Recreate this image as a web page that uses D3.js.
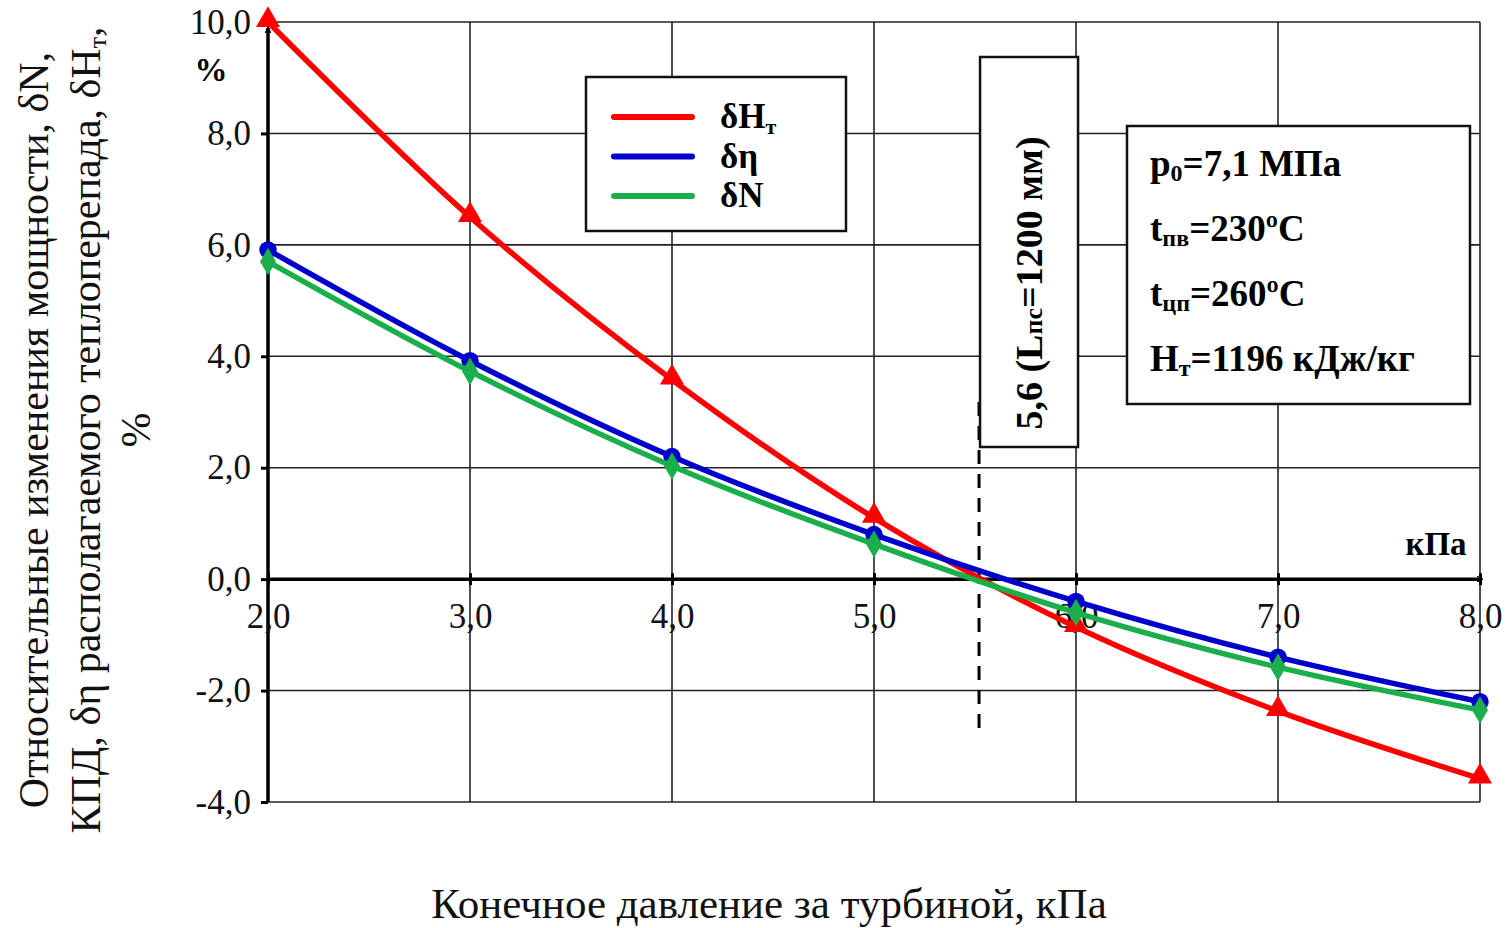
<!DOCTYPE html>
<html>
<head>
<meta charset="utf-8">
<script src="https://cdn.jsdelivr.net/npm/d3@7"></script>
<style>
  body { margin: 0; background: #fff; }
  svg { display: block; font-family: "Liberation Serif", "Times New Roman", serif; }
</style>
</head>
<body>
<div id="chart"></div>
<script>
const pressures = [2, 3, 4, 5, 6, 7, 8];
const dHt = [10.0, 6.5, 3.58, 1.1, -0.86, -2.37, -3.58];
const dEta = [5.91, 3.92, 2.2, 0.8, -0.4, -1.4, -2.2];
const dN = [5.7, 3.73, 2.03, 0.63, -0.6, -1.58, -2.35];
const xTicks = [2, 3, 4, 5, 6, 7, 8];
const yTicks = [-4, -2, 0, 2, 4, 6, 8, 10];
const markerLine = 5.52;

const w = 1505;
const h = 928;

const svg = d3.select("#chart")
  .append("svg")
  .attr("width", w)
  .attr("height", h);

const xScale = d3.scaleLinear().domain([2, 8]).range([268, 1480]);
const yScale = d3.scaleLinear().domain([-4, 10]).range([802, 22]);

const fmt = d => d3.format(".1f")(d).replace(".", ",").replace("−", "-");

// grid
svg.append("g")
  .selectAll("line")
  .data(yTicks)
  .enter()
  .append("line")
  .attr("x1", xScale(2))
  .attr("x2", xScale(8))
  .attr("y1", d => yScale(d))
  .attr("y2", d => yScale(d))
  .attr("stroke", "#222")
  .attr("stroke-width", 1.6);

svg.append("g")
  .selectAll("line")
  .data(xTicks)
  .enter()
  .append("line")
  .attr("x1", d => xScale(d))
  .attr("x2", d => xScale(d))
  .attr("y1", yScale(10))
  .attr("y2", yScale(-4))
  .attr("stroke", "#222")
  .attr("stroke-width", 1.6);

// arrows
const defs = svg.append("defs");
defs.append("marker")
  .attr("id", "arrow")
  .attr("viewBox", "0 0 10 10")
  .attr("refX", 9)
  .attr("refY", 5)
  .attr("markerWidth", 6)
  .attr("markerHeight", 6)
  .attr("markerUnits", "userSpaceOnUse")
  .attr("orient", "auto")
  .append("path")
  .attr("d", "M0,0 L10,5 L0,10")
  .attr("fill", "none")
  .attr("stroke", "#000")
  .attr("stroke-width", 2.2);

// y axis
const yAxis = d3.axisLeft(yScale)
  .tickValues(yTicks)
  .tickFormat(fmt)
  .tickSize(7)
  .tickSizeOuter(0);
const gy = svg.append("g")
  .attr("transform", "translate(" + xScale(2) + ",0)")
  .call(yAxis);
gy.select(".domain").remove();
gy.selectAll(".tick line").attr("stroke", "#000").attr("stroke-width", 3);
gy.selectAll(".tick text")
  .attr("x", -17)
  .attr("font-size", 35)
  .attr("font-family", "Liberation Serif")
  .attr("fill", "#111");

svg.append("line")
  .attr("x1", xScale(2))
  .attr("x2", xScale(2))
  .attr("y1", yScale(-4))
  .attr("y2", yScale(10) + 6)
  .attr("stroke", "#000")
  .attr("stroke-width", 3.5)
  .attr("marker-end", "url(#arrow)");

// x axis at zero
const xAxis = d3.axisBottom(xScale)
  .tickValues(xTicks)
  .tickFormat(fmt)
  .tickSize(6)
  .tickSizeOuter(0);
const gx = svg.append("g")
  .attr("transform", "translate(0," + yScale(0) + ")")
  .call(xAxis);
gx.select(".domain").remove();
gx.selectAll(".tick line").attr("y1", -6).attr("stroke", "#000").attr("stroke-width", 3);
gx.selectAll(".tick text")
  .attr("y", 24)
  .attr("font-size", 35)
  .attr("font-family", "Liberation Serif")
  .attr("fill", "#111");

svg.append("line")
  .attr("x1", xScale(2))
  .attr("x2", xScale(8) + 2)
  .attr("y1", yScale(0))
  .attr("y2", yScale(0))
  .attr("stroke", "#000")
  .attr("stroke-width", 3.5)
  .attr("marker-end", "url(#arrow)");

// unit labels
svg.append("text")
  .attr("x", 211)
  .attr("y", 81)
  .attr("text-anchor", "middle")
  .attr("font-size", 33)
  .attr("font-weight", "bold")
  .text("%");
svg.append("text")
  .attr("x", 1436)
  .attr("y", 555)
  .attr("text-anchor", "middle")
  .attr("font-size", 33)
  .attr("font-weight", "bold")
  .text("кПа");

// dashed line
svg.append("line")
  .attr("x1", xScale(markerLine))
  .attr("x2", xScale(markerLine))
  .attr("y1", 402)
  .attr("y2", 732)
  .attr("stroke", "#000")
  .attr("stroke-width", 3)
  .attr("stroke-dasharray", "14,10");

// series
const series = [
  { name: "dHt", values: dHt, color: "#ff0000", shape: "triangle" },
  { name: "dEta", values: dEta, color: "#0000cc", shape: "circle" },
  { name: "dN", values: dN, color: "#1aaf4b", shape: "diamond" }
];

const line = d3.line()
  .x(d => xScale(d[0]))
  .y(d => yScale(d[1]))
  .curve(d3.curveCatmullRom.alpha(0.5));

series.forEach(s => {
  const pts = pressures.map((p, i) => [p, s.values[i]]);
  svg.append("path")
    .datum(pts)
    .attr("d", line)
    .attr("fill", "none")
    .attr("stroke", s.color)
    .attr("stroke-width", 5.5);

  const sym = s.shape === "triangle" ? d3.symbolTriangle
    : s.shape === "circle" ? d3.symbolCircle : d3.symbolDiamond;
  const size = s.shape === "triangle" ? 250 : s.shape === "circle" ? 240 : 220;
  svg.append("g")
    .selectAll("path")
    .data(pts)
    .enter()
    .append("path")
    .attr("transform", d => "translate(" + xScale(d[0]) + "," + (yScale(d[1]) + (s.shape === "triangle" ? -2 : 0)) + ")")
    .attr("d", d3.symbol().type(sym).size(size))
    .attr("fill", s.color);
});

// legend
const legend = svg.append("g").attr("transform", "translate(586,77)");
legend.append("rect")
  .attr("width", 260)
  .attr("height", 154)
  .attr("fill", "#fff")
  .attr("stroke", "#111")
  .attr("stroke-width", 2.5);
const legendRows = [
  { color: "#ff0000", main: "δH", sub: "т" },
  { color: "#0000cc", main: "δη", sub: "" },
  { color: "#1aaf4b", main: "δN", sub: "" }
];
legendRows.forEach((r, i) => {
  const y = 40 + i * 39.5;
  legend.append("line")
    .attr("x1", 28)
    .attr("x2", 106)
    .attr("y1", y)
    .attr("y2", y)
    .attr("stroke", r.color)
    .attr("stroke-width", 6)
    .attr("stroke-linecap", "round");
  const t = legend.append("text")
    .attr("x", 134)
    .attr("y", y + 11)
    .attr("font-size", 35)
    .attr("font-weight", "bold");
  t.append("tspan").text(r.main);
  if (r.sub) {
    t.append("tspan").attr("font-size", 22).attr("dy", 6).text(r.sub);
  }
});

// rotated box
const boxX = xScale(markerLine) + 1;
svg.append("rect")
  .attr("x", boxX)
  .attr("y", 57)
  .attr("width", 98)
  .attr("height", 390)
  .attr("fill", "#fff")
  .attr("stroke", "#111")
  .attr("stroke-width", 2.5);
const rt = svg.append("text")
  .attr("transform", "translate(" + (boxX + 62) + ",283) rotate(-90)")
  .attr("text-anchor", "middle")
  .attr("font-size", 38)
  .attr("font-weight", "bold");
rt.append("tspan").text("5,6 (L");
rt.append("tspan").attr("font-size", 26).text("пс");
rt.append("tspan").text("=1200 мм)");

// info box
const info = svg.append("g").attr("transform", "translate(1127,126)");
info.append("rect")
  .attr("width", 343)
  .attr("height", 278)
  .attr("fill", "#fff")
  .attr("stroke", "#111")
  .attr("stroke-width", 2.5);
const infoRows = [
  ["p", "0", "=7,1 МПа"],
  ["t", "пв", "=230ºC"],
  ["t", "цп", "=260ºC"],
  ["H", "т", "=1196 кДж/кг"]
];
infoRows.forEach((r, i) => {
  const t = info.append("text")
    .attr("x", 23)
    .attr("y", 50 + i * 65)
    .attr("font-size", 37)
    .attr("font-weight", "bold");
  t.append("tspan").text(r[0]);
  t.append("tspan").attr("font-size", 24).attr("dy", 5).text(r[1]);
  t.append("tspan").attr("dy", -5).text(r[2]);
});

// axis titles
svg.append("text")
  .attr("x", 769)
  .attr("y", 918)
  .attr("text-anchor", "middle")
  .attr("font-size", 43)
  .attr("fill", "#111")
  .text("Конечное давление за турбиной, кПа");

const yTitle = svg.append("text")
  .attr("transform", "translate(0,430) rotate(-90)")
  .attr("text-anchor", "middle")
  .attr("font-size", 42)
  .attr("fill", "#111");
yTitle.append("tspan").attr("x", 0).attr("y", 48).text("Относительные изменения мощности, δN,");
const l2 = yTitle.append("tspan").attr("x", 0).attr("y", 100);
l2.append("tspan").text("КПД, δη располагаемого теплоперепада, δH");
l2.append("tspan").attr("font-size", 26).attr("dy", 6).text("т");
l2.append("tspan").attr("dy", -6).text(",");
yTitle.append("tspan").attr("x", 0).attr("y", 150).text("%");
</script>
</body>
</html>
